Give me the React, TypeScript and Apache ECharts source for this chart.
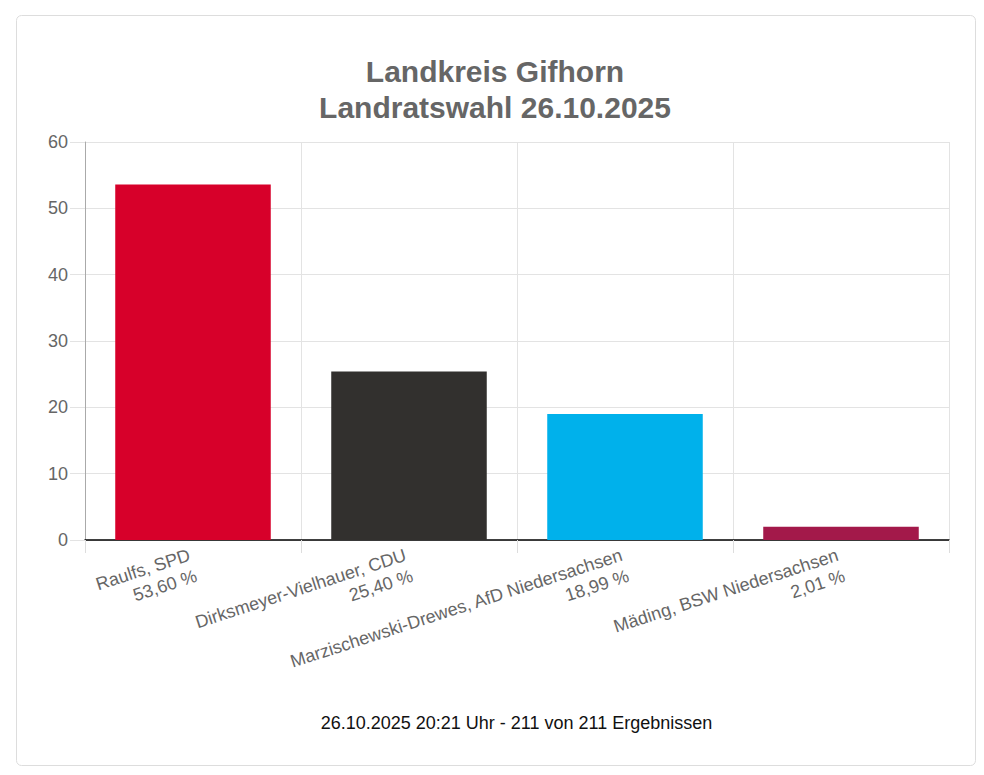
import React, { useEffect, useRef } from "react";
import * as echarts from "echarts";

const candidates = [
  "Raulfs, SPD",
  "Dirksmeyer-Vielhauer, CDU",
  "Marzischewski-Drewes, AfD Niedersachsen",
  "Mäding, BSW Niedersachsen",
];
const shares = [53.6, 25.4, 18.99, 2.01];
const shareLabels = ["53,60 %", "25,40 %", "18,99 %", "2,01 %"];
const barColors = ["#d7002a", "#32302e", "#00b1eb", "#a3194a"];
const titleLines = ["Landkreis Gifhorn", "Landratswahl 26.10.2025"];
const footerText = "26.10.2025 20:21 Uhr - 211 von 211 Ergebnissen";

export default function App() {
  const ref = useRef<HTMLDivElement>(null);
  useEffect(() => {
    if (!ref.current) return;
    const chart = echarts.init(ref.current, undefined, { renderer: "svg" });
    const font = "Arial, 'Liberation Sans', sans-serif";
    chart.setOption({
      animation: false,
      backgroundColor: "#ffffff",
      title: {
        text: titleLines.join("\n"),
        left: 495,
        top: 53,
        textAlign: "center",
        padding: 0,
        textStyle: {
          fontFamily: font,
          fontSize: 30,
          fontWeight: "bold",
          lineHeight: 36,
          color: "#666666",
        },
      },
      grid: { left: 85, right: 35, top: 142, bottom: 235, containLabel: false },
      xAxis: {
        type: "category",
        data: candidates,
        boundaryGap: true,
        axisLine: { show: true, lineStyle: { color: "#000000", width: 1.5 } },
        axisTick: { show: true, length: 13, lineStyle: { color: "#dddddd" } },
        splitLine: { show: true, lineStyle: { color: "#e3e3e3" } },
        axisLabel: {
          rotate: 18,
          margin: 25,
          interval: 0,
          fontFamily: font,
          fontSize: 18,
          lineHeight: 22,
          color: "#666666",
          formatter: (v: string, i: number) => v + "\n" + shareLabels[i],
        },
      },
      yAxis: {
        type: "value",
        min: 0,
        max: 60,
        interval: 10,
        axisLine: { show: true, lineStyle: { color: "#aaaaaa" } },
        axisTick: { show: true, length: 15, lineStyle: { color: "#e3e3e3" } },
        splitLine: { show: true, lineStyle: { color: "#e3e3e3" } },
        axisLabel: {
          margin: 17,
          fontFamily: font,
          fontSize: 18,
          color: "#666666",
        },
      },
      series: [
        {
          type: "bar",
          data: shares.map((v, i) => ({
            value: v,
            itemStyle: { color: barColors[i] },
          })),
          barCategoryGap: "28%",
          z: 3,
        },
      ],
      graphic: [
        {
          type: "rect",
          shape: { x: 16.5, y: 15.5, width: 959, height: 750, r: 5 },
          style: { fill: "none", stroke: "#dddddd", lineWidth: 1 },
          silent: true,
        },
        {
          type: "text",
          x: 516.5,
          y: 723,
          style: {
            text: footerText,
            fontFamily: font,
            fontSize: 18,
            fill: "#111111",
            textAlign: "center",
            textVerticalAlign: "middle",
          },
        },
      ],
    });
    return () => chart.dispose();
  }, []);
  return (
    <div style={{ position: "absolute", left: 0, top: 0, width: 984, height: 775 }}>
      <div ref={ref} style={{ width: 984, height: 775 }} />
    </div>
  );
}
